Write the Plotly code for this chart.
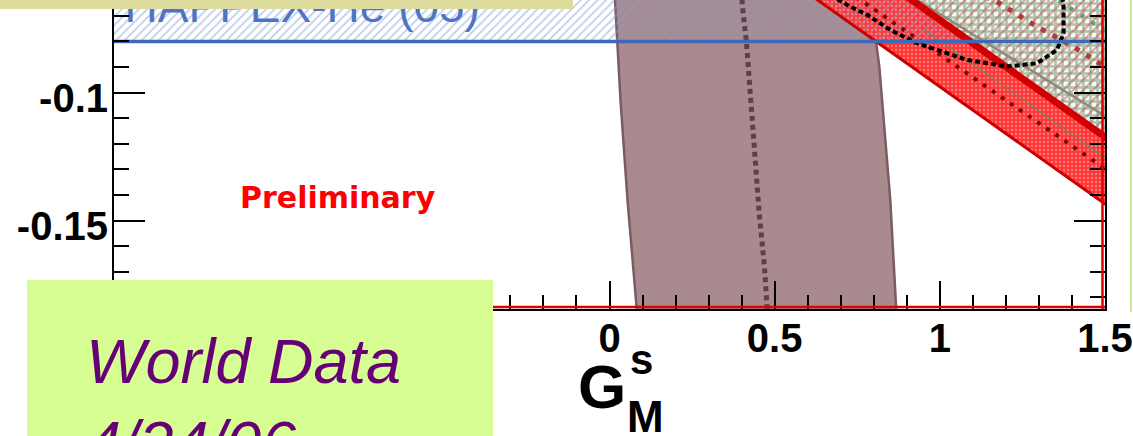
import plotly.graph_objects as go

# ---------------- axes ----------------
gm_range = [-1.5, 1.5]
ge_range = [-0.1845, -0.0638]
x_tick_vals = [-1.5, -1.0, -0.5, 0.0, 0.5, 1.0, 1.5]
x_tick_text = ["", "", "", "0", "0.5", "1", "1.5"]   # negative labels sit under the green note box
y_tick_vals = [-0.2, -0.15, -0.1, -0.05]
y_tick_text = ["-0.2", "-0.15", "-0.1", "-0.05"]

# ---------------- HAPPEX He (horizontal blue band) ----------------
happex_he_gm = [-1.5, 1.5]
happex_he_lower = [-0.080, -0.080]
happex_he_upper = [-0.040, -0.040]
happex_label = "HAPPEX-He (05)"

# ---------------- brown vertical band ----------------
brown_left_gm = [0.015, 0.0166, 0.0221, 0.0333, 0.0545, 0.0829, 0.086]
brown_left_ge = [-0.060, -0.0638, -0.0802, -0.1029, -0.1419, -0.1845, -0.190]
brown_right_gm = [0.797, 0.799, 0.807, 0.817, 0.834, 0.850, 0.868, 0.870]
brown_right_ge = [-0.060, -0.0638, -0.0802, -0.090, -0.1158, -0.1419, -0.1845, -0.190]
brown_center_gm = [0.400, 0.402, 0.4145, 0.4266, 0.4418, 0.4539, 0.469, 0.478, 0.480]
brown_center_ge = [-0.060, -0.0658, -0.0802, -0.1029, -0.1286, -0.1482, -0.1677, -0.1833, -0.190]

# ---------------- red diagonal band ----------------
red_gm = [0.50, 1.55]
red_upper_ge = [-0.0244, -0.1204]
red_lower_ge = [-0.0519, -0.1480]
red_stripe_ge = [-0.0259, -0.1219]
red_center_ge = [-0.0406, -0.1341]
red_inner_gm = [0.95, 1.55]
red_inner_ge = [-0.0752, -0.1301]

# ---------------- green cross-hatched region ----------------
green_top_ge = [-0.030, -0.030]
gray_gm = [0.90, 1.55]
gray_ge = [-0.0613, -0.1131]

# ---------------- dotted contours ----------------
black_ell_gm = [0.669, 0.729, 0.780, 0.8505, 0.931, 1.0823, 1.2033, 1.294, 1.3546, 1.3746, 1.3746, 1.370]
black_ell_ge = [-0.0620, -0.0664, -0.0696, -0.0755, -0.0807, -0.0872, -0.0898, -0.0885, -0.0833, -0.0768, -0.0664, -0.0620]
red_ell_gm = [1.10, 1.173, 1.294, 1.404, 1.4757, 1.55]
red_ell_ge = [-0.0605, -0.0645, -0.0742, -0.0820, -0.0879, -0.0940]
green_dot_gm = [1.36, 1.42, 1.50, 1.55]
green_dot_ge = [-0.0640, -0.0690, -0.0760, -0.0800]

FONT = "Liberation Sans"

fig = go.Figure()

# brown band
fig.add_trace(go.Scatter(
    x=brown_left_gm + brown_right_gm[::-1], y=brown_left_ge + brown_right_ge[::-1],
    fill="toself", fillcolor="#a98a8e", mode="lines",
    line=dict(color="#7b5c63", width=2.5), hoverinfo="skip"))

# red band
fig.add_trace(go.Scatter(
    x=red_gm + red_gm[::-1], y=red_upper_ge + red_lower_ge[::-1],
    fill="toself", fillcolor="#ff4a4a", mode="lines", line=dict(width=0),
    fillpattern=dict(shape=".", fgcolor="#ffc8c8", bgcolor="#ff3636", size=4, solidity=0.25),
    hoverinfo="skip"))

# blue hatch (HAPPEX He)
fig.add_trace(go.Scatter(
    x=happex_he_gm + happex_he_gm[::-1], y=happex_he_lower + happex_he_upper[::-1],
    fill="toself", fillcolor="rgba(0,0,0,0)", mode="lines", line=dict(width=0),
    fillpattern=dict(shape="/", fgcolor="#7f9edc", bgcolor="rgba(0,0,0,0)", size=6, solidity=0.3),
    hoverinfo="skip"))

# green cross-hatched region
fig.add_trace(go.Scatter(
    x=red_gm + red_gm[::-1], y=red_upper_ge + green_top_ge[::-1],
    fill="toself", fillcolor="#fbf3f3", mode="lines", line=dict(width=0),
    fillpattern=dict(shape="+", fgcolor="#4f9a64", bgcolor="#fdf6f6", size=7, solidity=0.6),
    hoverinfo="skip"))
fig.add_trace(go.Scatter(
    x=red_gm + red_gm[::-1], y=red_upper_ge + green_top_ge[::-1],
    fill="toself", fillcolor="rgba(0,0,0,0)", mode="lines", line=dict(width=0),
    fillpattern=dict(shape="/", fgcolor="#c84848", bgcolor="rgba(0,0,0,0)", size=7, solidity=0.3),
    hoverinfo="skip"))

# lines
fig.add_trace(go.Scatter(x=brown_center_gm, y=brown_center_ge, mode="lines",
                         line=dict(color="#5e4048", width=5, dash="5px,4px"), hoverinfo="skip"))
fig.add_trace(go.Scatter(x=gray_gm, y=gray_ge, mode="lines",
                         line=dict(color="#8c8c7c", width=2.5), hoverinfo="skip"))
fig.add_trace(go.Scatter(x=red_inner_gm, y=red_inner_ge, mode="lines",
                         line=dict(color="rgba(100,140,100,0.8)", width=1.5), hoverinfo="skip"))
fig.add_trace(go.Scatter(x=red_gm, y=red_center_ge, mode="lines",
                         line=dict(color="#7a0a0a", width=4, dash="4px,7px"), hoverinfo="skip"))
fig.add_trace(go.Scatter(x=red_gm, y=red_stripe_ge, mode="lines",
                         line=dict(color="#d00000", width=7), hoverinfo="skip"))
fig.add_trace(go.Scatter(x=red_gm, y=red_lower_ge, mode="lines",
                         line=dict(color="#cc0000", width=3), hoverinfo="skip"))
fig.add_trace(go.Scatter(x=green_dot_gm, y=green_dot_ge, mode="lines",
                         line=dict(color="#5f9f70", width=4, dash="4px,9px"), hoverinfo="skip"))
fig.add_trace(go.Scatter(x=black_ell_gm, y=black_ell_ge, mode="lines",
                         line=dict(color="black", width=4, dash="5px,3px"), hoverinfo="skip"))
fig.add_trace(go.Scatter(x=red_ell_gm, y=red_ell_ge, mode="lines",
                         line=dict(color="#b33a3a", width=5, dash="5px,8px"), hoverinfo="skip"))
fig.add_trace(go.Scatter(x=happex_he_gm, y=happex_he_lower, mode="lines",
                         line=dict(color="#4068b8", width=3.5), hoverinfo="skip"))

# HAPPEX label (under the khaki banner)
fig.add_trace(go.Scatter(x=[-0.93], y=[-0.0680], mode="text", text=[happex_label],
                         textfont=dict(family=FONT, size=46, color="#4f74c4"),
                         hoverinfo="skip"))

W, H = 1133, 436
L, R, T, B = 114, 28, 0, 127
pw, ph = W - L - R, H - T - B


def px(xp):
    return (xp - L) / pw


def py(yp):
    return (H - B - yp) / ph


shapes = [
    # red frame lines inside bottom and right axes
    dict(type="line", xref="paper", yref="paper", x0=0, x1=1, y0=py(307), y1=py(307),
         line=dict(color="#e00000", width=2.5), layer="above"),
    dict(type="line", xref="paper", yref="paper", x0=px(1102.5), x1=px(1102.5), y0=0, y1=1,
         line=dict(color="#e00000", width=2.5), layer="above"),
    # khaki banner (top-left)
    dict(type="rect", xref="paper", yref="paper", x0=px(-5), x1=px(573), y0=py(9), y1=py(-5),
         fillcolor="#dedc9c", line=dict(width=0), layer="above"),
    # light green box (bottom-left)
    dict(type="rect", xref="paper", yref="paper", x0=px(27), x1=px(493), y0=py(445), y1=py(280),
         fillcolor="#d7fe92", line=dict(width=0), layer="above"),
    # slide border on the right
    dict(type="line", xref="paper", yref="paper", x0=px(1131), x1=px(1131), y0=py(312), y1=py(-2),
         line=dict(color="#c5ec8a", width=2), layer="above"),
]

annotations = [
    dict(text="Preliminary", xref="paper", yref="paper", x=px(338), y=py(197.5),
         xanchor="center", yanchor="middle", showarrow=False,
         font=dict(family="DejaVu Sans", size=30, color="#ff0000", weight="bold")),
    dict(text="World Data<br>4/24/06", xref="paper", yref="paper", x=px(84), y=py(324),
         xanchor="left", yanchor="top", align="left", showarrow=False,
         font=dict(family=FONT, size=63, color="#660077", style="italic")),
    dict(text="G", xref="paper", yref="paper", x=px(602), y=py(387),
         xanchor="center", yanchor="middle", showarrow=False,
         font=dict(family=FONT, size=62, color="black", weight="bold")),
    dict(text="s", xref="paper", yref="paper", x=px(641), y=py(359),
         xanchor="center", yanchor="middle", showarrow=False,
         font=dict(family=FONT, size=42, color="black", weight="bold")),
    dict(text="M", xref="paper", yref="paper", x=px(645), y=py(416),
         xanchor="center", yanchor="middle", showarrow=False,
         font=dict(family=FONT, size=44, color="black", weight="bold")),
]

tickfont = dict(family=FONT, size=40, color="black", weight="bold")

fig.update_layout(
    width=W, height=H, autosize=False,
    margin=dict(l=L, r=R, t=T, b=B, pad=0),
    paper_bgcolor="white", plot_bgcolor="white",
    showlegend=False,
    shapes=shapes, annotations=annotations,
    xaxis=dict(range=gm_range, showgrid=False, zeroline=False,
               showline=True, linecolor="black", linewidth=2, mirror=False,
               ticks="inside", ticklen=28, tickwidth=2, tickcolor="black",
               tickmode="array", tickvals=x_tick_vals, ticktext=x_tick_text,
               tickfont=tickfont, ticklabelstandoff=-7,
               minor=dict(tickmode="linear", tick0=0, dtick=0.1, ticks="inside",
                          ticklen=14, tickwidth=2, tickcolor="black")),
    yaxis=dict(range=ge_range, showgrid=False, zeroline=False,
               showline=True, linecolor="black", linewidth=2, mirror="ticks",
               ticks="inside", ticklen=31, tickwidth=2, tickcolor="black",
               tickmode="array", tickvals=y_tick_vals, ticktext=y_tick_text,
               tickfont=tickfont, ticklabelstandoff=-4, ticklabelshift=5,
               minor=dict(tickmode="linear", tick0=0, dtick=0.01, ticks="inside",
                          ticklen=15, tickwidth=2, tickcolor="black")),
)

fig.write_html("out.html", config={"displayModeBar": False},
               post_script="document.body.style.margin='0';document.body.style.padding='0';")
